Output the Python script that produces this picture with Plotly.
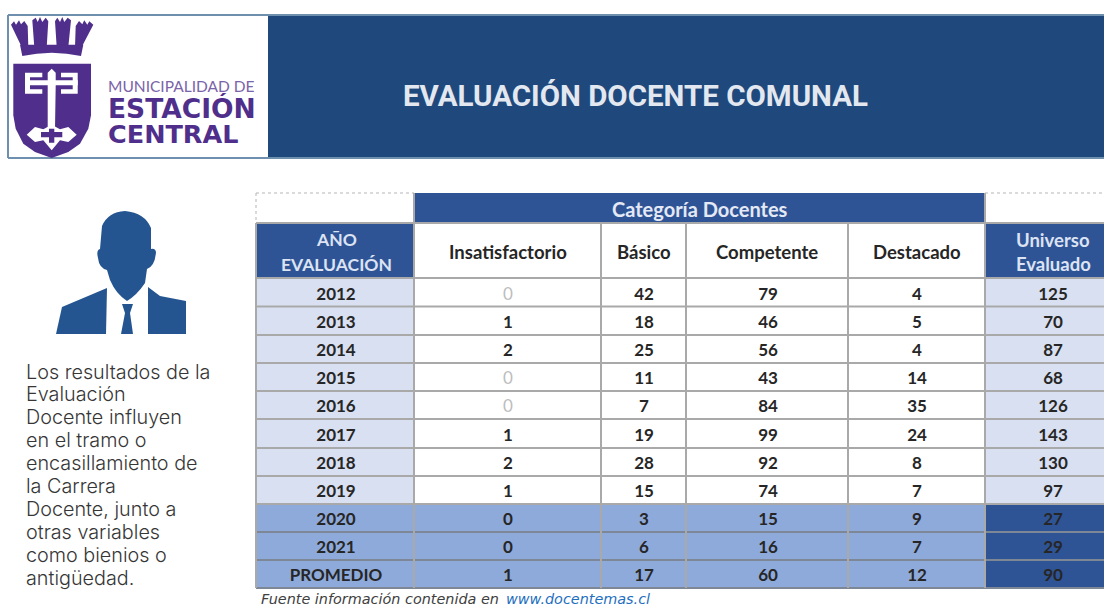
import plotly.graph_objects as go

# ---- data ----
years = ["2012","2013","2014","2015","2016","2017","2018","2019","2020","2021","PROMEDIO"]
insatisfactorio = [0,1,2,0,0,1,2,1,0,0,1]
basico = [42,18,25,11,7,19,28,15,3,6,17]
competente = [79,46,56,43,84,99,92,74,15,16,60]
destacado = [4,5,4,14,35,24,8,7,9,7,12]
universo = [125,70,87,68,126,143,130,97,27,29,90]
col_headers = ["Insatisfactorio","Básico","Competente","Destacado"]
side_text = ["Los resultados de la","Evaluación","Docente influyen","en el tramo o","encasillamiento de",
             "la Carrera","Docente, junto a","otras variables","como bienios o","antigüedad."]

# ---- layout grid (pixels of the page) ----
X = [256,414,601,686,848,985,1104]
Y = [278,306.5,335,363,391,419,448,476,504,532,560,588]
TOP, HEAD = 193, 223
DARK, LIGHT, MID, BANNER = "#2F5496","#D9E0F1","#8EAADB","#1F497D"
GRID = "#A9A9A9"
LABEL_FONT = "Lato"

shapes, ann = [], []
def rect(x0,y0,x1,y1,fill,line=None,w=0,dash=None):
    shapes.append(dict(type="rect",x0=x0,y0=y0,x1=x1,y1=y1,fillcolor=fill,layer="below",
                       line=dict(color=line or fill,width=w,dash=dash or "solid")))
def seg(x0,y0,x1,y1,c=GRID,w=2,dash="solid"):
    shapes.append(dict(type="line",x0=x0,y0=y0,x1=x1,y1=y1,line=dict(color=c,width=w,dash=dash)))
def path(d,fill):
    shapes.append(dict(type="path",path=d,fillcolor=fill,line=dict(width=0)))
def text(x,y,t,size,color,font=LABEL_FONT,anchor="center",weight=None):
    f = dict(size=size,color=color,family=font)
    if weight: f["weight"] = weight
    ann.append(dict(x=x,y=y,text=t,showarrow=False,xanchor=anchor,yanchor="middle",
                    font=f,xref="x",yref="y"))

# banner
rect(8,15,1104,158,BANNER)
rect(9,16,268,157,"#FFFFFF")
seg(8,15,1104,15,"#6F8FAF",2)
seg(8,158,1104,158,"#6F8FAF",2)
seg(8,15,8,158,"#6F8FAF",2)
text(635,96,"<b>EVALUACIÓN DOCENTE COMUNAL</b>",29.5,"#E3E8F0","Roboto")

# logo (traced in a 3x crop whose origin is 5,12)
PURPLE = "#4F2F8B"
def poly(pts, fill):
    d = "M" + " L".join(f"{5+a/3:.1f},{12+b/3:.1f}" for a,b in pts) + " Z"
    path(d, fill)
poly([(18,38),(27,28),(33,38),(42,25),(48,37),(58,27),(68,42),(70,105),(50,105)],PURPLE)
poly([(82,25),(92,17),(98,30),(105,15),(112,30),(122,17),(130,28),(125,105),(88,105)],PURPLE)
poly([(150,28),(157,17),(165,30),(172,15),(178,30),(188,17),(198,25),(190,105),(155,105)],PURPLE)
poly([(212,42),(222,27),(232,37),(238,25),(247,38),(253,28),(265,38),(230,105),(210,105)],PURPLE)
poly([(45,98),(235,98),(228,132),(185,125),(140,122),(95,125),(52,132)],PURPLE)
poly([(25,155),(258,155),(258,310),(250,350),(225,395),(190,420),(140,438),(90,420),(55,395),(32,350),(25,310)],PURPLE)
W = "#FFFFFF"
poly([(128,182),(140,170),(152,182),(152,205),(218,205),(218,220),(152,220),(150,350),(128,350),(128,220),(60,220),(60,205),(128,205)],W)
poly([(60,182),(112,182),(112,196),(75,196),(75,232),(112,232),(112,245),(60,245)],W)
poly([(218,182),(168,182),(168,196),(203,196),(203,232),(168,232),(168,245),(218,245)],W)
poly([(140,338),(165,352),(190,345),(215,368),(190,390),(165,385),(140,415),(115,385),(90,390),(65,368),(90,345),(115,352)],W)
poly([(132,350),(148,350),(148,360),(172,360),(172,376),(148,376),(148,392),(132,392),(132,376),(108,376),(108,360),(132,360)],PURPLE)
text(106,86,"MUNICIPALIDAD DE",15.5,"#7A63A8","Lato","left")
text(106,108,"<b>ESTACIÓN</b>",26.5,PURPLE,"DejaVu Sans","left")
text(106,134,"<b>CENTRAL</b>",25.5,PURPLE,"DejaVu Sans","left")

# person silhouette
PERSON = "#245590"
path("M125,211 Q108,212 102,226 L100,249 Q96,250 98,258 Q99,268 107,270 L110,280 Q116,294 127,301 "
     "Q137,295 145,283 L147,269 Q155,266 156,252 Q155,248 151,249 L151,228 Q145,213 125,211 Z", PERSON)
path("M107,288 L62,307 L56,334 L106,334 Z", PERSON)
path("M148,287 L160,296 L186,301 L186,334 L148,334 Z", PERSON)
path("M122,304 L133,304 L130,313 L133,334 L121,334 L125,313 Z", PERSON)

# side text
for ln, t in zip([372,394,417,440,463,486,509,532,555,578], side_text):
    text(24,ln,t,19.8,"#363636","Inter","left",300)

# table fills
rect(X[1],TOP,X[5],HEAD,DARK)
rect(X[0],HEAD,X[1],Y[0],DARK)
rect(X[5],HEAD,X[6],Y[0],DARK)
rect(X[0],Y[0],X[1],Y[8],LIGHT)
rect(X[5],Y[0],X[6],Y[8],LIGHT)
rect(X[0],Y[8],X[5],Y[11],MID)
rect(X[5],Y[8],X[6],Y[11],DARK)

# grid
seg(X[0],TOP,X[1],TOP,"#B5B5B5",1,"dot")
seg(X[5],TOP,X[6],TOP,"#B5B5B5",1,"dot")
seg(X[0],TOP,X[0],HEAD,"#B5B5B5",1,"dot")
seg(X[0],HEAD,X[6],HEAD)
for i,yy in enumerate(Y):
    seg(X[0],yy,X[6],yy,"#7E8796" if i>=9 else GRID)
seg(X[0],HEAD,X[0],Y[-1])
seg(X[1],TOP,X[1],Y[-1])
for xx in X[2:5]:
    seg(xx,HEAD,xx,Y[-1])
seg(X[5],TOP,X[5],Y[-1])

# headers
text((X[1]+X[5])/2,209,"<b>Categoría Docentes</b>",20,"#E4E9F5")
text(336,239,"<b>AÑO</b>",17.5,"#DCE3F3")
text(336,264,"<b>EVALUACIÓN</b>",17.5,"#DCE3F3")
text(1053,240,"<b>Universo</b>",18.5,"#DCE3F3")
text(1053,264,"<b>Evaluado</b>",18.5,"#DCE3F3")
for i,h in enumerate(col_headers):
    text((X[i+1]+X[i+2])/2,252,f"<b>{h}</b>",18.5,"#262626")

# footnote
text(259,599,"<i>Fuente información contenida en</i>",14.4,"#404040","DejaVu Sans","left")
text(504,599,"<i>www.docentemas.cl</i>",14.4,"#1F6FC0","DejaVu Sans","left")

# table values as text traces
row_y = [(Y[i]+Y[i+1])/2+3 for i in range(11)]
fig = go.Figure()
def col(xc, vals, grey_zero=False):
    faded = [grey_zero and v==0 and i<8 for i,v in enumerate(vals)]
    labels = [str(v) if f else f"<b>{v}</b>" for v,f in zip(vals,faded)]
    colors = ["#BDBDBD" if f else "#262626" for f in faded]
    fig.add_trace(go.Scatter(x=[xc]*len(vals),y=row_y,mode="text",text=labels,
                             textposition="middle center",
                             textfont=dict(family=LABEL_FONT,size=17,color=colors),
                             showlegend=False,hoverinfo="skip"))
col(336,years)
col(508,insatisfactorio,True)
col(644,basico)
col(768,competente)
col(917,destacado)
col(1053,universo)

fig.update_layout(width=1104,height=607,margin=dict(l=0,r=0,t=0,b=0),autosize=False,
                  paper_bgcolor="#FFFFFF",plot_bgcolor="#FFFFFF",
                  shapes=shapes,annotations=ann,showlegend=False,
                  xaxis=dict(range=[0,1104],visible=False,fixedrange=True),
                  yaxis=dict(range=[607,0],visible=False,fixedrange=True))
fig.write_html("out.html",config={"displayModeBar":False},
               post_script="document.body.style.margin='0';document.body.style.overflow='hidden';")
